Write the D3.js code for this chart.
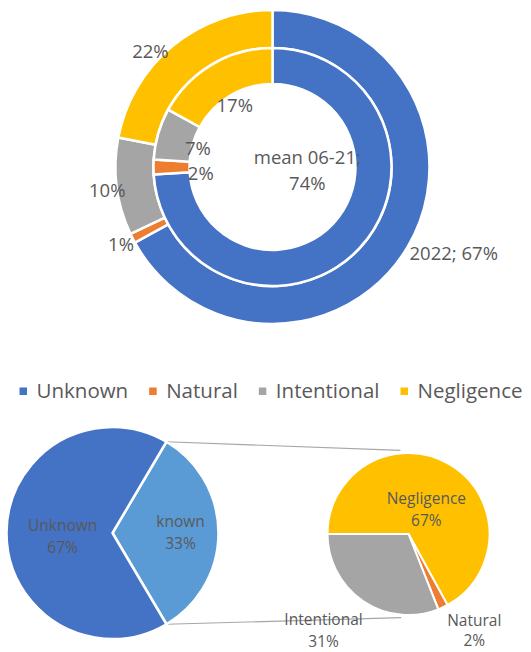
<!DOCTYPE html>
<html><head><meta charset="utf-8">
<script src="https://cdn.jsdelivr.net/npm/d3@7"></script>
<style>body{margin:0;background:#fff}svg{display:block}text{font-family:"Open Sans",sans-serif;fill:#595959}</style>
</head><body><svg id="c" width="531" height="652"></svg>
<script>
// ---- data ----
const categories = ["Unknown","Natural","Intentional","Negligence"];
const colors = ["#4472C4","#ED7D31","#A5A5A5","#FFC000"];
const values2022 = [67,1,10,22];
const valuesMean = [74,2,7,17];
const primaryCats = ["known","Unknown"];
const primaryVals = [33,67];
const primaryColors = ["#5B9BD5","#4472C4"];
const secondaryCats = ["Negligence","Natural","Intentional"];
const secondaryVals = [67,2,31];
const secondaryColors = ["#FFC000","#ED7D31","#A5A5A5"];

const svg = d3.select("#c");
const deg = Math.PI/180;
function polar(r,a){return [r*Math.sin(a), -r*Math.cos(a)];}

// ---- top double donut ----
const cx=272.5, cy=167, R=157, Rmid=119, Rin=83;
const g = svg.append("g").attr("transform",`translate(${cx},${cy})`);
const pie = d3.pie().sort(null).value(d=>d.v);
const outerData = pie(categories.map((c,i)=>({c,v:values2022[i],i})));
const innerData = pie(categories.map((c,i)=>({c,v:valuesMean[i],i})));
const arcOuter = d3.arc().innerRadius(Rmid).outerRadius(R);
const arcInner = d3.arc().innerRadius(Rin).outerRadius(Rmid);
g.selectAll("path.o").data(outerData).join("path").attr("d",arcOuter)
  .attr("fill",d=>colors[d.data.i]).attr("stroke","#fff").attr("stroke-width",2.5);
g.selectAll("path.i").data(innerData).join("path").attr("d",arcInner)
  .attr("fill",d=>colors[d.data.i]).attr("stroke","#fff").attr("stroke-width",2.5);

// label placement: [radius, angle nudge in degrees]
const outerLabelPos = [[201,-5],[170,0],[167,-1],[168,-7]];
const innerLabelPos = [[35,-37],[72,-5],[77,-2],[72,-1]];
function placeLabels(data, pos, textFn){
  data.forEach((d,k)=>{
    const mid=(d.startAngle+d.endAngle)/2 + pos[k][1]*deg;
    const [x,y]=polar(pos[k][0],mid);
    const lines=textFn(d);
    const t=g.append("text").attr("text-anchor","middle").attr("font-size",18.5);
    lines.forEach((l,j)=>{
      t.append("tspan").attr("x",x).attr("y",y+(j-(lines.length-1)/2)*26).attr("dy","0.35em").text(l);
    });
  });
}
placeLabels(outerData, outerLabelPos, d=> d.data.i===0 ? [`2022; ${d.data.v}%`] : [`${d.data.v}%`]);
placeLabels(innerData, innerLabelPos, d=> d.data.i===0 ? ["mean 06-21;",`${d.data.v}%`] : [`${d.data.v}%`]);

// ---- legend ----
const leg = svg.append("g");
let lx=0; const gapItem=21;
categories.forEach((c,i)=>{
  const it=leg.append("g");
  it.append("rect").attr("x",0).attr("y",-3.5).attr("width",7.5).attr("height",7.5).attr("fill",colors[i]);
  const t=it.append("text").attr("x",17).attr("dy","0.35em").attr("font-size",20.5).text(c);
  const w=17+t.node().getComputedTextLength();
  it.attr("transform",`translate(${lx},0)`);
  lx+=w+gapItem;
});
const totalW=lx-gapItem;
leg.attr("transform",`translate(${271-totalW/2},391)`);

// ---- bottom: pie of pie ----
const p1=[112.5,533], r1=106;
const p2=[408.5,534], r2=81;
const frac = primaryVals[0]/d3.sum(primaryVals);
const pie1 = d3.pie().sort(null).startAngle(Math.PI/2 - frac*Math.PI).endAngle(Math.PI/2 - frac*Math.PI + 2*Math.PI);
const d1 = pie1(primaryVals);
const pie2 = d3.pie().sort(null).startAngle(1.5*Math.PI).endAngle(3.5*Math.PI);
const d2 = pie2(secondaryVals);

// connector lines
const k0=d1[0];
const a=polar(r1,k0.startAngle), b=polar(r1,k0.endAngle);
const ta=polar(r2+3,-5.5*deg), tb=polar(r2+3,185*deg);
svg.append("line").attr("x1",p1[0]+a[0]).attr("y1",p1[1]+a[1]).attr("x2",p2[0]+ta[0]).attr("y2",p2[1]+ta[1])
  .attr("stroke","#A6A6A6").attr("stroke-width",1.2);
svg.append("line").attr("x1",p1[0]+b[0]).attr("y1",p1[1]+b[1]).attr("x2",p2[0]+tb[0]).attr("y2",p2[1]+tb[1])
  .attr("stroke","#A6A6A6").attr("stroke-width",1.2);

const g1=svg.append("g").attr("transform",`translate(${p1})`);
g1.selectAll("path").data(d1).join("path").attr("d",d3.arc().innerRadius(0).outerRadius(r1))
  .attr("fill",(d,i)=>primaryColors[i]).attr("stroke","#fff").attr("stroke-width",2.5).attr("stroke-linejoin","round");
const g2=svg.append("g").attr("transform",`translate(${p2})`);
g2.selectAll("path").data(d2).join("path").attr("d",d3.arc().innerRadius(0).outerRadius(r2))
  .attr("fill",(d,i)=>secondaryColors[i]).attr("stroke","#fff").attr("stroke-width",2);

function pieLabels(grp, data, cats, pos, lh){
  data.forEach((d,k)=>{
    const mid=(d.startAngle+d.endAngle)/2 + pos[k][1]*deg;
    const [x,y]=polar(pos[k][0],mid);
    const t=grp.append("text").attr("text-anchor","middle").attr("font-size",15.5);
    [cats[k], `${d.data}%`].forEach((l,j)=>{
      t.append("tspan").attr("x",x).attr("y",y+(j-0.5)*(lh[k]||22)).attr("dy","0.35em").text(l);
    });
  });
}
pieLabels(g1, d1, primaryCats, [[68,0],[50,-4]], [22,22]);
pieLabels(g2, d2, secondaryCats, [[30,6],[117,-9],[129,7]], [22,20,22]);
</script></body></html>
